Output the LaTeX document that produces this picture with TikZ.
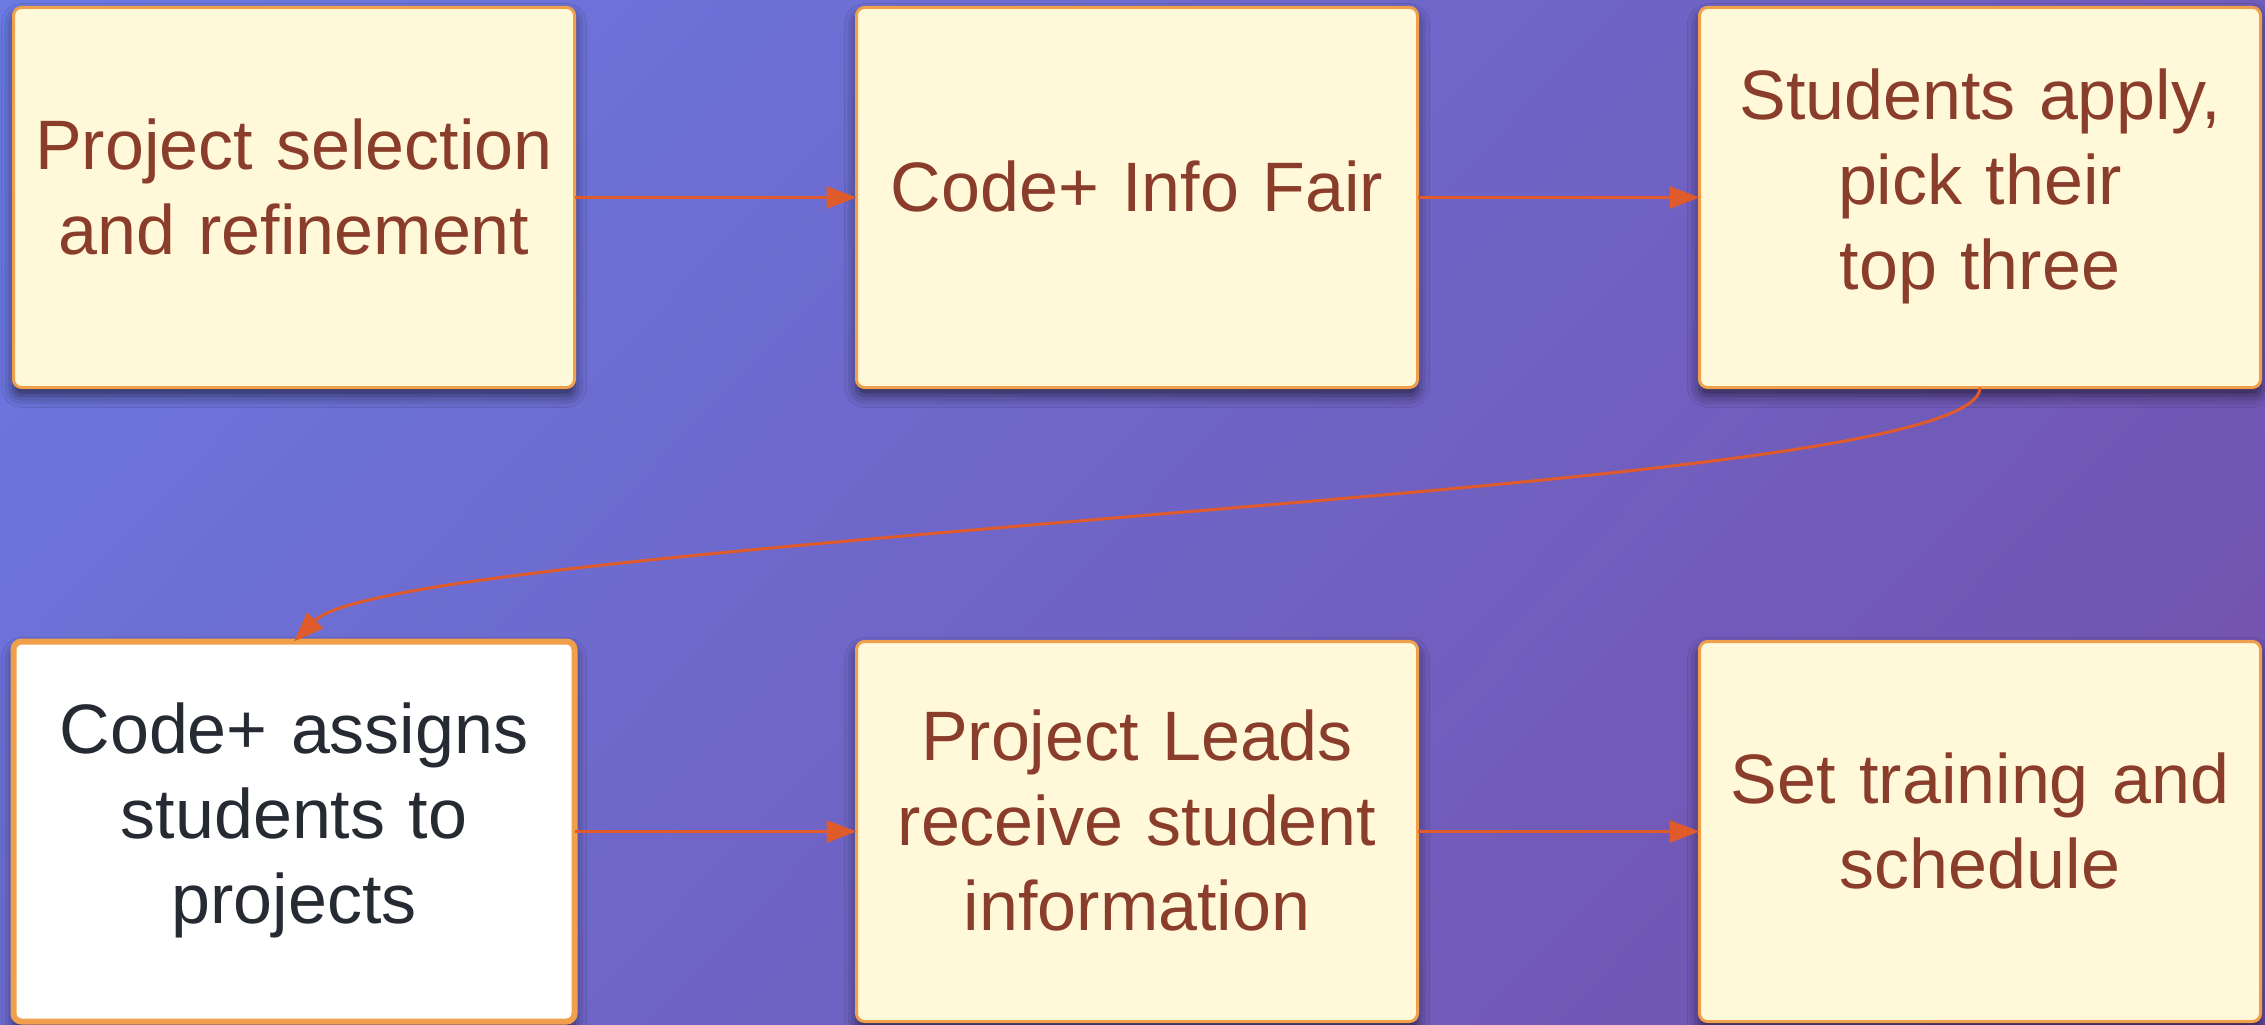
\documentclass[tikz,border=0pt]{standalone}
\usepackage{fontspec}
\setmainfont{Liberation Sans}
\usetikzlibrary{arrows.meta, positioning, shadings, shadows.blur}

\definecolor{bgul}{RGB}{106,122,226}
\definecolor{bgur}{RGB}{113,92,187}
\definecolor{bgll}{RGB}{109,109,209}
\definecolor{bglr}{RGB}{116,79,170}
\definecolor{boxfill}{HTML}{FFF9DA}
\definecolor{boxline}{HTML}{F0A04B}
\definecolor{boxtext}{HTML}{8A3D2A}
\definecolor{darktext}{HTML}{262A33}
\definecolor{flowline}{HTML}{E05B2B}

\begin{document}
\begin{tikzpicture}[
    x=1pt, y=-1pt,
    node distance={254pt and 282pt},
    stage/.style={draw=boxline, line width=3pt, fill=boxfill, rounded corners=8pt,
        minimum width=561pt, minimum height=380pt, text width=540pt, align=center,
        inner sep=0pt, outer sep=0pt, text=boxtext,
        font=\fontsize{70}{85}\selectfont,
        execute at end node=\vspace{22pt},
        blur shadow={shadow xshift=0pt, shadow yshift=-8pt,
            shadow blur radius=12pt, shadow opacity=60}},
    current/.style={stage, fill=white, line width=6pt, text=darktext},
    flow/.style={color=flowline, line width=3pt, -{Triangle[length=30pt, width=22pt]}}
]

% background
\useasboundingbox (0,0) rectangle (2265,1025);
\shade[upper left=bgul, upper right=bgur, lower left=bgll, lower right=bglr]
    (0,0) rectangle (2265,1025);

\node[stage] (select) at (294,197.5) {Project selection\\and refinement};
\node[stage] (fair) [right=of select] {Code+ Info Fair};
\node[stage] (apply) [right=of fair] {Students apply,\\pick their\\top three};

\node[current] (assign) [below=of select] {Code+ assigns\\students to\\projects};
\node[stage] (leads) [right=of assign] {Project Leads\\receive student\\information};
\node[stage] (train) [right=of leads] {Set training and\\schedule};

\coordinate (bend) at (1137,516);

\path[flow]
    (select) edge (fair)
    (fair) edge (apply)
    (assign) edge (leads)
    (leads) edge (train)
    ;

\draw[flow] (apply.south) .. controls +(0,60) and +(400,-34) .. (bend)
    .. controls +(-400,34) and +(60,-60) .. (assign.north);

\end{tikzpicture}
\end{document}
